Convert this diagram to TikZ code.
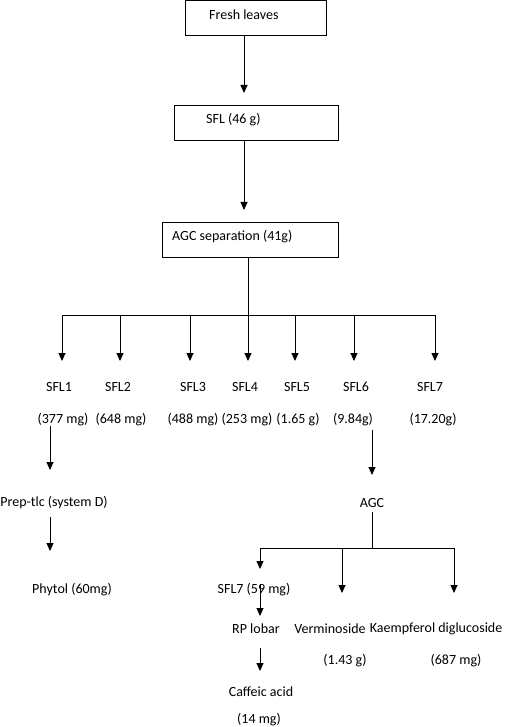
\documentclass[tikz,border=0pt]{standalone}
\usepackage{fontspec}
\setmainfont{Carlito}
\usetikzlibrary{arrows.meta,calc}
\begin{document}
\begin{tikzpicture}[x=1pt,y=-1pt,
  box/.style={draw, line width=0.9pt, inner sep=0pt, anchor=north west},
  lbl/.style={inner sep=0pt, font=\fontsize{14}{16}\selectfont},
  arr/.style={line width=0.9pt, -{Triangle[width=7pt,length=8pt]}},
  ln/.style={line width=0.9pt}]
\useasboundingbox (0,0) rectangle (504,727);
% boxes
\node[box, minimum width=141pt, minimum height=35pt] (b1) at (185,0.5) {};
\node[box, minimum width=164pt, minimum height=35pt] (b2) at (174,105) {};
\node[box, minimum width=176pt, minimum height=35pt] (b3) at (162,222) {};
\node[lbl, anchor=west] (t1) at (209,15) {Fresh leaves};
\node[lbl, anchor=west] (t2) at (206,120) {SFL (46 g)};
\node[lbl, anchor=west] (t3) at (172,237) {AGC separation (41g)};
% main arrows
\coordinate (c1) at (244,0);
\coordinate (c2) at (248,0);
\draw[arr, shorten >=12pt] (b1.south -| c1) -- (b2.north -| c1);
\draw[arr, shorten >=12pt] (b2.south -| c1) -- (b3.north -| c1);
\coordinate (bar) at (248,315);
\draw[ln] (b3.south -| c2) -- (bar);
\draw[ln] (62,315) -- (435,315);
% SFL fractions
\foreach \i/\x/\sx/\mx/\m in {1/62/59/63/{(377 mg)},2/120/118/121/{(648 mg)},3/190/193/193/{(488 mg)},4/248/245/247/{(253 mg)},5/295/297/298/{(1.65 g)},6/354/356/353/{(9.84g)},7/435/430/433/{(17.20g)}}{
  \node[lbl] (s\i) at (\sx,387) {SFL\i};
  \node[lbl] (m\i) at (\mx,420) {\m};
  \coordinate (j\i) at (\x,315);
  \draw[arr] (j\i) -- (j\i |- 0,361);
}
% left branch
\node[lbl] (p1) at (54,503) {Prep-tlc (system D)};
\node[lbl] (ph) at (72,590) {Phytol (60mg)};
\coordinate (x1) at (50,0);
\draw[arr] (m1.south -| x1) ++(0,-1) -- (x1 |- 0,470);
\draw[arr] (x1 |- 0,517) -- (x1 |- 0,551);
% right branch
\node[lbl] (agc) at (372,503) {AGC};
\coordinate (x6) at (372,0);
\draw[arr] (x6 |- 0,430) -- (x6 |- 0,475);
\coordinate (bar2) at (372,548);
\draw[ln] (agc.south -| x6) ++(0,4) -- (bar2);
\draw[ln] (260,548) -- (454,548);
\node[lbl] (f7) at (254,590) {SFL7 (59 mg)};
\node[lbl] (rp) at (256,629) {RP lobar};
\node[lbl] (ver) at (330,629) {Verminoside};
\node[lbl, anchor=east] (kae) at (502.5,629) {Kaempferol diglucoside};
\node[lbl] (mv) at (345,661) {(1.43 g)};
\node[lbl] (mk) at (456,661) {(687 mg)};
\node[lbl] (caf) at (261,692) {Caffeic acid};
\node[lbl] (m14) at (259,719.5) {(14 mg)};
\draw[arr] (260,548) -- (260,569);
\draw[arr] (342,548) -- (342,593);
\draw[arr] (454,548) -- (454,593);
\draw[arr] (260,584) -- (260,616);
\draw[arr] (260,648) -- (260,671);
\end{tikzpicture}
\end{document}
